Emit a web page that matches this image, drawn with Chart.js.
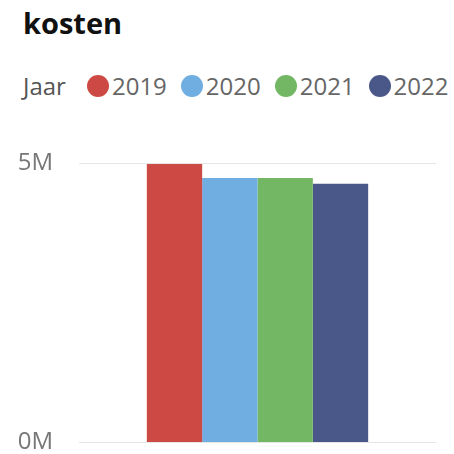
<!DOCTYPE html>
<html>
<head>
<meta charset="utf-8">
<script src="https://cdn.jsdelivr.net/npm/chart.js@4/dist/chart.umd.min.js"></script>
<style>
  html, body { margin: 0; padding: 0; background: #fff; width: 454px; height: 454px; overflow: hidden; font-family: 'Open Sans', sans-serif; }
  #title { position: absolute; left: 23px; top: 3px; font-size: 29px; font-weight: bold; color: #111; }
  #legend { position: absolute; left: 23px; top: 69px; display: flex; align-items: center; font-size: 24px; color: #666; }
  #legend .lbl { color: #555; margin-right: 21px; }
  #legend .item { display: flex; align-items: center; margin-right: 14px; }
  #legend .dot { width: 22px; height: 22px; border-radius: 50%; margin-right: 3px; }
  #c { position: absolute; left: 0; top: 0; }
</style>
</head>
<body>
<div id="title">kosten</div>
<div id="legend"></div>
<canvas id="c" width="454" height="483"></canvas>
<script>
// data
const legendTitle = 'Jaar';
const categories = [''];
const years = ['2019', '2020', '2021', '2022'];
const costs = [4980000, 4730000, 4730000, 4630000];
const colors = ['#CD4A44', '#70ADE1', '#73B764', '#4A5889'];
const yTicks = [0, 5000000];

// legend in html
const legend = document.getElementById('legend');
const lbl = document.createElement('span');
lbl.className = 'lbl';
lbl.textContent = legendTitle;
legend.appendChild(lbl);
years.forEach((y, i) => {
  const item = document.createElement('span');
  item.className = 'item';
  const dot = document.createElement('span');
  dot.className = 'dot';
  dot.style.background = colors[i];
  item.appendChild(dot);
  item.appendChild(document.createTextNode(y));
  legend.appendChild(item);
});

new Chart(document.getElementById('c'), {
  type: 'bar',
  data: {
    labels: categories,
    datasets: years.map((y, i) => ({
      label: y,
      data: [costs[i]],
      backgroundColor: colors[i],
      borderWidth: 0,
      barPercentage: 1.0,
      categoryPercentage: 0.62
    }))
  },
  options: {
    responsive: false,
    animation: false,
    layout: { padding: { left: 18, right: 18, top: 163, bottom: 12 } },
    plugins: { legend: { display: false }, tooltip: { enabled: false } },
    scales: {
      x: { display: false },
      y: {
        min: 0,
        max: 5000000,
        afterBuildTicks: axis => { axis.ticks = yTicks.map(v => ({ value: v })); },
        afterFit: axis => { axis.width = 61; },
        grid: { color: '#e6e6e6', drawTicks: false, lineWidth: 1 },
        border: { display: false },
        ticks: {
          padding: 26,
          color: '#777',
          font: { family: 'Open Sans', size: 24 },
          callback: v => (v / 1000000) + 'M'
        }
      }
    }
  }
});
</script>
</body>
</html>
